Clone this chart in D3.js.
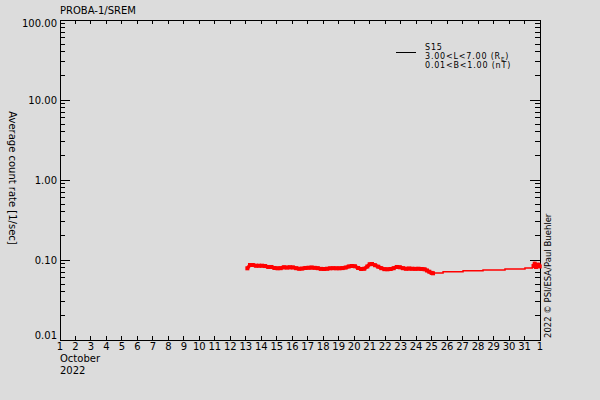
<!DOCTYPE html>
<html>
<head>
<meta charset="utf-8">
<script src="https://cdn.jsdelivr.net/npm/d3@7"></script>
<style>
  body { margin: 0; background: #dcdcdc; }
  svg { display: block; background: #dcdcdc; }
  text { font-family: "DejaVu Sans", sans-serif; fill: #000; }
</style>
</head>
<body>
<svg id="chart" width="600" height="400"></svg>
<script>
// ---- data ----
var dayTicks = d3.range(1, 33);          // 1 Oct .. 1 Nov (day 32)
var dayLabels = dayTicks.map(function (d) { return d <= 31 ? String(d) : "1"; });
var yTicks = [0.01, 0.1, 1, 10, 100];
var yTickLabels = ["0.01", "0.10", "1.00", "10.00", "100.00"];

// dense averaged count rate (thick part), [day of October, rate]
var denseDays = [13.10, 13.27, 13.45, 13.65, 13.85, 14.05, 14.25, 14.45, 14.65, 14.85,
  15.05, 15.25, 15.45, 15.65, 15.85, 16.05, 16.25, 16.45, 16.65, 16.85,
  17.05, 17.25, 17.45, 17.65, 17.85, 18.05, 18.25, 18.45, 18.65, 18.85,
  19.05, 19.25, 19.45, 19.65, 19.85, 20.05, 20.25, 20.45, 20.65, 20.85,
  21.00, 21.15, 21.35, 21.55, 21.75, 21.95, 22.15, 22.35, 22.55, 22.75,
  22.95, 23.15, 23.35, 23.55, 23.75, 23.95, 24.15, 24.35, 24.55, 24.70,
  24.85, 25.00, 25.09];
var denseRates = [0.0787, 0.0866, 0.0866, 0.0849, 0.0849, 0.0849, 0.0840, 0.0818, 0.0818, 0.0795,
  0.0787, 0.0790, 0.0811, 0.0805, 0.0811, 0.0808, 0.0790, 0.0778, 0.0782, 0.0795,
  0.0801, 0.0805, 0.0798, 0.0790, 0.0775, 0.0772, 0.0778, 0.0787, 0.0790, 0.0787,
  0.0787, 0.0792, 0.0805, 0.0830, 0.0841, 0.0835, 0.0795, 0.0772, 0.0778, 0.0830,
  0.0885, 0.0891, 0.0860, 0.0825, 0.0790, 0.0768, 0.0765, 0.0772, 0.0790, 0.0818,
  0.0811, 0.0790, 0.0778, 0.0782, 0.0778, 0.0775, 0.0778, 0.0772, 0.0765, 0.0740,
  0.0714, 0.0690, 0.0682];

// sparse stretch (thin stepped line)
var sparseDays = [25.09, 25.74, 27.03, 28.32, 29.74, 31.03, 31.55];
var sparseRates = [0.0690, 0.0714, 0.0735, 0.0750, 0.0772, 0.0794, 0.0794];

// last cluster just before 1 Nov
var endDays = [31.58, 31.66, 31.74, 31.82, 31.90, 31.98];
var endRates = [0.0840, 0.0900, 0.0818, 0.0860, 0.0875, 0.0830];

(function () {
  var left = 60, right = 540, top = 20, bottom = 340;
  var svg = d3.select("#chart");

  var x = d3.scaleLinear().domain([1, 32]).range([left, right]);
  var y = d3.scaleLog().domain([0.01, 100]).range([bottom, top]);

  var minor = [];
  yTicks.slice(0, -1).forEach(function (t) {
    for (var k = 2; k <= 9; k++) minor.push(t * k);
  });

  var axes = svg.append("g").attr("shape-rendering", "crispEdges");

  // frame
  axes.append("rect")
    .attr("x", left).attr("y", top)
    .attr("width", right - left).attr("height", bottom - top)
    .attr("fill", "none").attr("stroke", "#000");

  // x ticks, bottom and top, pointing inward
  axes.selectAll(".xb").data(dayTicks).join("line")
    .attr("x1", x).attr("x2", x).attr("y1", bottom).attr("y2", bottom - 4)
    .attr("stroke", "#000");
  axes.selectAll(".xt").data(dayTicks).join("line")
    .attr("x1", x).attr("x2", x).attr("y1", top).attr("y2", top + 4)
    .attr("stroke", "#000");

  // y ticks on both sides
  [[left, 1], [right, -1]].forEach(function (s) {
    axes.append("g").selectAll("line").data(yTicks).join("line")
      .attr("x1", s[0]).attr("x2", s[0] + s[1] * 10)
      .attr("y1", y).attr("y2", y).attr("stroke", "#000");
    axes.append("g").selectAll("line").data(minor).join("line")
      .attr("x1", s[0]).attr("x2", s[0] + s[1] * 5)
      .attr("y1", y).attr("y2", y).attr("stroke", "#000");
  });

  // tick labels
  svg.append("g").selectAll("text").data(dayTicks).join("text")
    .attr("x", x).attr("y", bottom + 10)
    .attr("text-anchor", "middle").attr("font-size", 10)
    .text(function (d, i) { return dayLabels[i]; });

  svg.append("g").selectAll("text").data(yTicks).join("text")
    .attr("x", left - 3)
    .attr("y", function (d) { return Math.min(Math.max(y(d) + 4, top + 7), bottom - 1); })
    .attr("text-anchor", "end").attr("font-size", 10)
    .text(function (d, i) { return yTickLabels[i]; });

  svg.append("text").attr("x", left).attr("y", bottom + 22)
    .attr("font-size", 10).text("October");
  svg.append("text").attr("x", left).attr("y", bottom + 34)
    .attr("font-size", 10).text("2022");

  // title
  svg.append("text").attr("x", left).attr("y", 14)
    .attr("font-size", 10).text("PROBA-1/SREM");

  // y title, reading downward
  svg.append("text")
    .attr("transform", "translate(9," + 178 + ") rotate(90)")
    .attr("text-anchor", "middle").attr("font-size", 10)
    .text("Average count rate [1/sec]");

  // credit on the right, reading upward
  svg.append("text")
    .attr("transform", "translate(551," + 338 + ") rotate(-90)")
    .attr("font-size", 8.5)
    .text("2022 \u00a9 PSI/ESA/Paul Buehler");

  // legend
  var lg = svg.append("g").attr("font-size", 8).attr("letter-spacing", 0.8);
  lg.append("line").attr("x1", 396).attr("x2", 416).attr("y1", 52.5).attr("y2", 52.5)
    .attr("stroke", "#000").attr("shape-rendering", "crispEdges");
  lg.append("text").attr("x", 425).attr("y", 50).text("S15");
  var l2 = lg.append("text").attr("x", 425).attr("y", 59);
  l2.append("tspan").text("3.00<L<7.00 (R");
  l2.append("tspan").attr("font-size", 5.5).attr("dy", 1.5).text("E");
  l2.append("tspan").attr("dy", -1.5).text(")");
  lg.append("text").attr("x", 425).attr("y", 68).text("0.01<B<1.00 (nT)");

  // data
  var plot = svg.append("g");
  var dense = denseDays.map(function (d, i) { return [d, denseRates[i]]; });
  var sparse = sparseDays.map(function (d, i) { return [d, sparseRates[i]]; });
  var ends = endDays.map(function (d, i) { return [d, endRates[i]]; });

  var line = d3.line().x(function (d) { return x(d[0]); }).y(function (d) { return y(d[1]); });

  plot.append("path").datum(sparse)
    .attr("d", line.curve(d3.curveStepAfter))
    .attr("fill", "none").attr("stroke", "#ff0000").attr("stroke-width", 1.5);

  line.curve(d3.curveLinear);
  [dense, ends].forEach(function (set) {
    plot.append("path").datum(set).attr("d", line)
      .attr("fill", "none").attr("stroke", "#ff0000")
      .attr("stroke-width", 3.5).attr("stroke-linejoin", "round");
    plot.append("g").selectAll("rect").data(set).join("rect")
      .attr("x", function (d) { return x(d[0]) - 2; })
      .attr("y", function (d) { return y(d[1]) - 2; })
      .attr("width", 4).attr("height", 4).attr("fill", "#ff0000");
  });
})();
</script>
</body>
</html>
